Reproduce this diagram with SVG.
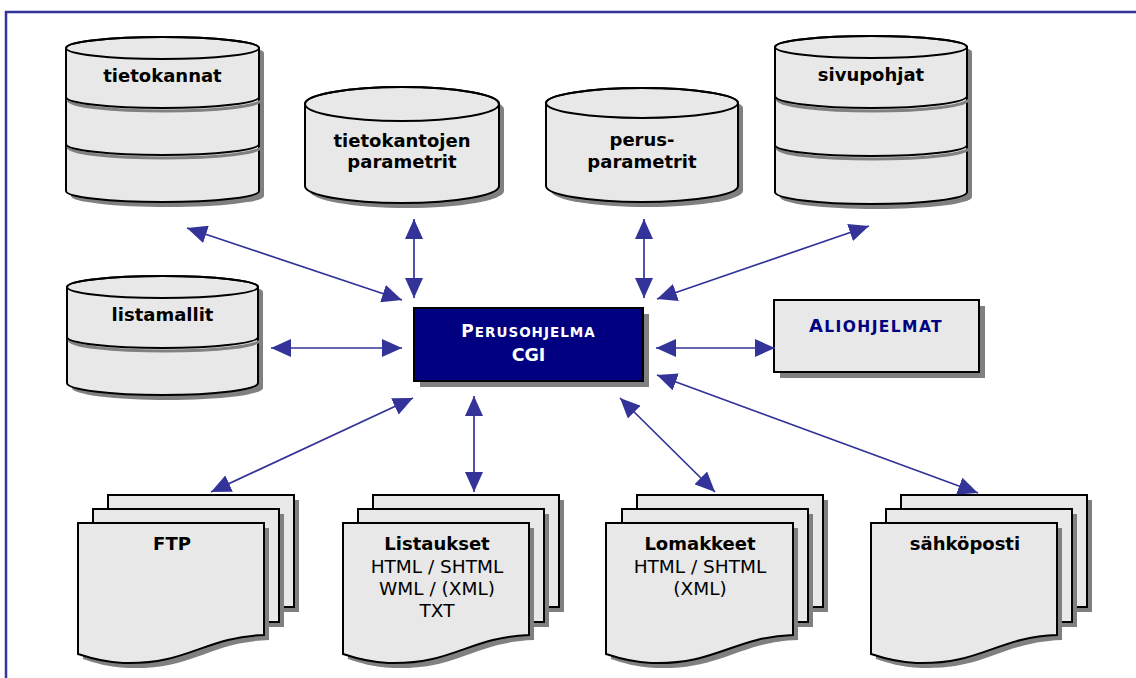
<svg xmlns="http://www.w3.org/2000/svg" width="1136" height="678" viewBox="0 0 1136 678">
<style>
.sh{fill:#808080;stroke:none}
.body{fill:#e8e8e8;stroke:#000;stroke-width:2}
.ln{fill:none;stroke:#000;stroke-width:2}
.bs{fill:none;stroke:#808080;stroke-width:3}
.t{font-family:"DejaVu Sans","Liberation Sans",sans-serif;font-size:18.5px;text-anchor:middle;fill:#000}
.b{font-weight:bold;font-size:18px}
.con{stroke:#333399;stroke-width:1.7;fill:none;marker-start:url(#ah);marker-end:url(#ah)}
</style>
<defs>
<marker id="ah" markerUnits="userSpaceOnUse" markerWidth="20" markerHeight="18" refX="20" refY="9" orient="auto-start-reverse" viewBox="0 0 20 18">
<path d="M0,0 L20,9 L0,18 Z" fill="#333399"/>
</marker>
</defs>
<rect x="6" y="12" width="1140" height="680" fill="#fff" stroke="#333399" stroke-width="2.5"/>

<g id="tietokannat">
<path class="sh" d="M71,53 L71,196 A96.5,11 0 0 0 264,196 L264,53 A96.5,11 0 0 0 71,53 Z"/>
<path class="body" d="M66,48 L66,191 A96.5,11 0 0 0 259,191 L259,48 A96.5,11 0 0 0 66,48 Z"/>
<ellipse class="ln" cx="162.5" cy="48" rx="96.5" ry="11"/>
<path class="bs" d="M68,100 A96.5,11 0 0 0 261,100"/>
<path class="ln" d="M66,97 A96.5,11 0 0 0 259,97"/>
<path class="bs" d="M68,147 A96.5,11 0 0 0 261,147"/>
<path class="ln" d="M66,144 A96.5,11 0 0 0 259,144"/>
<text class="t b" x="162.5" y="82">tietokannat</text>
</g>

<g id="tietokantojen-parametrit">
<path class="sh" d="M310,109 L310,191 A97,17 0 0 0 504,191 L504,109 A97,17 0 0 0 310,109 Z"/>
<path class="body" d="M305,104 L305,186 A97,17 0 0 0 499,186 L499,104 A97,17 0 0 0 305,104 Z"/>
<ellipse class="ln" cx="402" cy="104" rx="97" ry="17"/>
<text class="t b" x="402" y="147">tietokantojen</text>
<text class="t b" x="402" y="168">parametrit</text>
</g>

<g id="perusparametrit">
<path class="sh" d="M551,108 L551,191 A96,16 0 0 0 743,191 L743,108 A96,15 0 0 0 551,108 Z"/>
<path class="body" d="M546,103 L546,186 A96,16 0 0 0 738,186 L738,103 A96,15 0 0 0 546,103 Z"/>
<ellipse class="ln" cx="642" cy="103" rx="96" ry="15"/>
<text class="t b" x="642" y="146">perus-</text>
<text class="t b" x="642" y="168">parametrit</text>
</g>

<g id="sivupohjat">
<path class="sh" d="M780,52 L780,197 A96,12 0 0 0 972,197 L972,52 A96,11 0 0 0 780,52 Z"/>
<path class="body" d="M775,47 L775,192 A96,12 0 0 0 967,192 L967,47 A96,11 0 0 0 775,47 Z"/>
<ellipse class="ln" cx="871" cy="47" rx="96" ry="11"/>
<path class="bs" d="M777,99 A96,12 0 0 0 969,99"/>
<path class="ln" d="M775,96 A96,12 0 0 0 967,96"/>
<path class="bs" d="M777,148 A96,11 0 0 0 969,148"/>
<path class="ln" d="M775,145 A96,11 0 0 0 967,145"/>
<text class="t b" x="871" y="81">sivupohjat</text>
</g>

<g id="listamallit">
<path class="sh" d="M72,292 L72,388 A95.5,12 0 0 0 263,388 L263,292 A95.5,11 0 0 0 72,292 Z"/>
<path class="body" d="M67,287 L67,383 A95.5,12 0 0 0 258,383 L258,287 A95.5,11 0 0 0 67,287 Z"/>
<ellipse class="ln" cx="162.5" cy="287" rx="95.5" ry="11"/>
<path class="bs" d="M69,340 A95.5,11 0 0 0 260,340"/>
<path class="ln" d="M67,337 A95.5,11 0 0 0 258,337"/>
<text class="t b" x="162.5" y="321">listamallit</text>
</g>

<g id="perusohjelma">
<rect class="sh" x="420" y="314" width="229" height="73"/>
<rect x="414" y="308" width="229" height="73" fill="#000080" stroke="#000" stroke-width="2"/>
<text class="t b" x="528.5" y="337" style="fill:#fff" letter-spacing="1"><tspan font-size="17">P</tspan><tspan font-size="13.5">ERUSOHJELMA</tspan></text>
<text class="t b" x="528.5" y="361" style="fill:#fff;font-size:17.5px">CGI</text>
</g>

<g id="aliohjelmat">
<rect class="sh" x="780" y="306" width="205" height="72"/>
<rect class="body" x="774" y="300" width="205" height="72"/>
<text class="t b" x="876" y="332" style="fill:#000080" letter-spacing="1.4"><tspan font-size="18">A</tspan><tspan font-size="15.5">LIOHJELMAT</tspan></text>
</g>

<g id="ftp">
<rect class="sh" x="113" y="500" width="186" height="112"/>
<rect class="body" x="108" y="495" width="186" height="112"/>
<rect class="sh" x="98" y="514" width="186" height="113"/>
<rect class="body" x="93" y="509" width="186" height="113"/>
<path class="sh" d="M83,528 H269 V640 C209,642 193,670 128,668 C108,667 95,663 83,659 Z"/>
<path class="body" d="M78,523 H264 V635 C204,637 188,665 123,663 C103,662 90,658 78,654 Z"/>
<text class="t b" x="172" y="550">FTP</text>
</g>

<g id="listaukset">
<rect class="sh" x="378" y="500" width="186" height="112"/>
<rect class="body" x="373" y="495" width="186" height="112"/>
<rect class="sh" x="363" y="514" width="186" height="113"/>
<rect class="body" x="358" y="509" width="186" height="113"/>
<path class="sh" d="M348,528 H534 V640 C474,642 458,670 393,668 C373,667 360,663 348,659 Z"/>
<path class="body" d="M343,523 H529 V635 C469,637 453,665 388,663 C368,662 355,658 343,654 Z"/>
<text class="t b" x="437" y="550">Listaukset</text>
<text class="t" x="437" y="573">HTML / SHTML</text>
<text class="t" x="437" y="595">WML / (XML)</text>
<text class="t" x="437" y="617">TXT</text>
</g>

<g id="lomakkeet">
<rect class="sh" x="642" y="500" width="186" height="112"/>
<rect class="body" x="637" y="495" width="186" height="112"/>
<rect class="sh" x="627" y="514" width="186" height="113"/>
<rect class="body" x="622" y="509" width="186" height="113"/>
<path class="sh" d="M611,528 H798 V640 C738,642 722,670 656,668 C636,667 623,663 611,659 Z"/>
<path class="body" d="M606,523 H793 V635 C733,637 717,665 651,663 C631,662 618,658 606,654 Z"/>
<text class="t b" x="700" y="550">Lomakkeet</text>
<text class="t" x="700" y="573">HTML / SHTML</text>
<text class="t" x="700" y="595">(XML)</text>
</g>

<g id="sahkoposti">
<rect class="sh" x="906" y="500" width="186" height="112"/>
<rect class="body" x="901" y="495" width="186" height="112"/>
<rect class="sh" x="891" y="514" width="186" height="113"/>
<rect class="body" x="886" y="509" width="186" height="113"/>
<path class="sh" d="M876,528 H1062 V640 C1002,642 986,670 921,668 C901,667 888,663 876,659 Z"/>
<path class="body" d="M871,523 H1057 V635 C997,637 981,665 916,663 C896,662 883,658 871,654 Z"/>
<text class="t b" x="965" y="550">sähköposti</text>
</g>

<g id="connectors">
<line class="con" x1="187" y1="228" x2="402" y2="300"/>
<line class="con" x1="414" y1="219" x2="414" y2="298"/>
<line class="con" x1="644" y1="219" x2="644" y2="298"/>
<line class="con" x1="869" y1="226" x2="657" y2="299"/>
<line class="con" x1="271" y1="348" x2="402" y2="348"/>
<line class="con" x1="656" y1="348" x2="775" y2="348"/>
<line class="con" x1="413" y1="398" x2="211" y2="492"/>
<line class="con" x1="474" y1="396" x2="474" y2="492"/>
<line class="con" x1="620" y1="398" x2="715" y2="492"/>
<line class="con" x1="657" y1="375" x2="978" y2="493"/>
</g>
</svg>
